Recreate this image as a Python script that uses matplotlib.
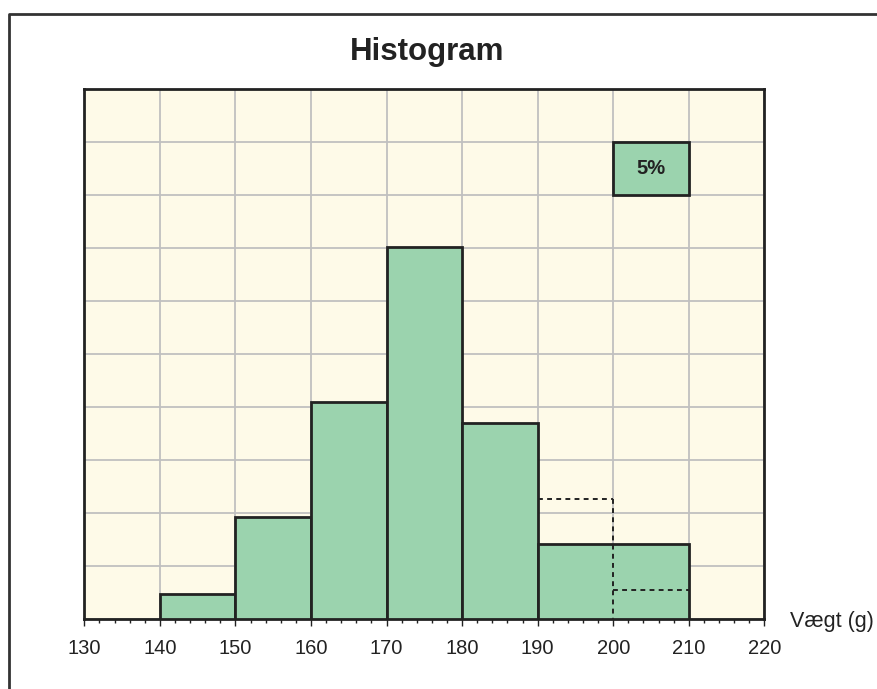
import matplotlib.pyplot as plt
from matplotlib.lines import Line2D
from matplotlib.ticker import MultipleLocator

plt.rcParams['font.family'] = ['Liberation Sans', 'DejaVu Sans']

# bins (g) and share of observations in each bin (%)
bin_edges = [140, 150, 160, 170, 180, 190, 200, 210]
percent = [2.4, 9.7, 20.5, 35.1, 18.5, 11.4, 2.8]
merge_from = 5          # the last two bins are drawn as one bar
x_ticks = list(range(130, 221, 10))
x_label = "Vægt (g)"
title = "Histogram"
legend_pct = 5          # reference box: 5 % over 10 g

fill = "#9bd3ae"
edge = "#222222"
bg = "#fefae8"
grid_col = "#c0c0c0"

fig = plt.figure(figsize=(8.77, 6.89), dpi=100)
ax = fig.add_axes([84.3 / 877, 1 - 619.3 / 689, 680 / 877, 529.8 / 689])
ax.set_facecolor(bg)

# heights as percent per 10 g
for i in range(merge_from):
    w = bin_edges[i + 1] - bin_edges[i]
    ax.bar(bin_edges[i], percent[i] * 10 / w, width=w, align="edge",
           color=fill, edgecolor=edge, linewidth=2, zorder=3)

# merged bar
x0, x1 = bin_edges[merge_from], bin_edges[-1]
h = sum(percent[merge_from:]) * 10 / (x1 - x0)
ax.bar(x0, h, width=x1 - x0, align="edge", color=fill, edgecolor=edge,
       linewidth=2, zorder=3)

# dotted outline of the unmerged bins
dots = dict(color=edge, ls=(0, (2.5, 2.2)), lw=1.4, zorder=4)
xs, ys = [], []
for i in range(merge_from, len(percent)):
    xs += [bin_edges[i], bin_edges[i + 1]]
    ys += [percent[i], percent[i]]
ax.plot(xs[:2], ys[:2], **dots)
ax.plot([xs[1], xs[1]], [ys[1], 0], **dots)
ax.plot(xs[2:], ys[2:], **dots)

# 5 % scale box
ax.bar(200, legend_pct, width=10, bottom=40, align="edge", color=fill,
       edgecolor=edge, linewidth=2, zorder=3)
ax.text(205, 40 + legend_pct / 2, f"{legend_pct}%", ha="center", va="center",
        fontsize=14.5, fontweight="bold", color="#222222", zorder=5)

ax.set_xlim(130, 220)
ax.set_ylim(0, 50)
ax.set_xticks(x_ticks)
ax.xaxis.set_minor_locator(MultipleLocator(2))
ax.yaxis.set_major_locator(MultipleLocator(5))
ax.grid(True, color=grid_col, lw=1.3, zorder=0)
ax.set_axisbelow(True)
ax.tick_params(axis="y", left=False, labelleft=False)
ax.tick_params(axis="x", which="major", length=5, width=1, color=edge,
               labelsize=14.5, pad=9, labelcolor="#222222")
ax.tick_params(axis="x", which="minor", length=3, width=1, color=edge)
for s in ax.spines.values():
    s.set_color(edge)
    s.set_linewidth(2)

ax.text(1.038, -0.005, x_label, transform=ax.transAxes, ha="left", va="center",
        fontsize=15.5, color="#222222")

fig.text(427.5 / 877, 1 - 52 / 689, title, ha="center", va="center",
         fontsize=22.5, fontweight="bold", color="#222222")

# outer frame (only top and left edges are visible)
fig.add_artist(Line2D([9 / 877, 9 / 877, 1], [0, 1 - 14.3 / 689, 1 - 14.3 / 689],
                      transform=fig.transFigure, color="#333333", lw=2))

fig.savefig("out.png", dpi=100)
